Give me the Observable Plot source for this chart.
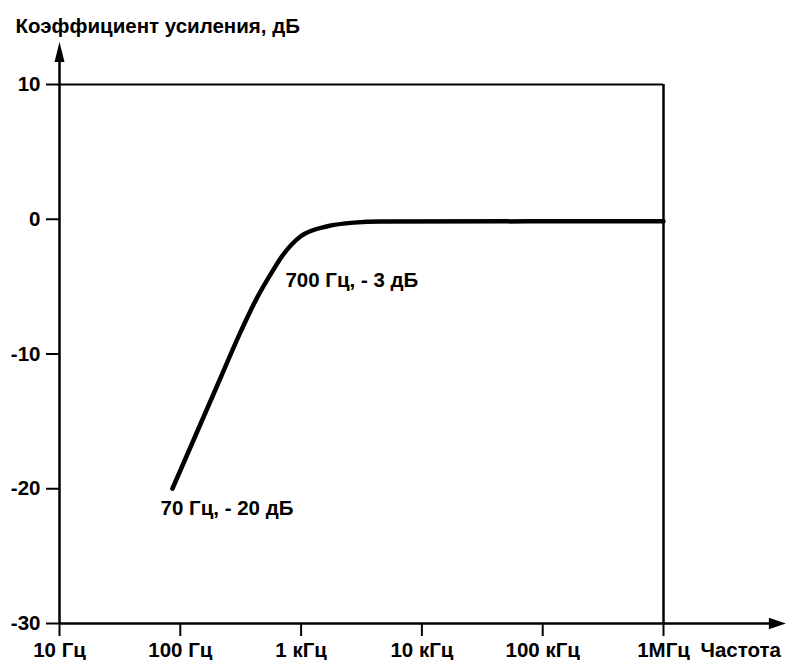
<!DOCTYPE html>
<html><head><meta charset="utf-8">
<script src="https://cdn.jsdelivr.net/npm/d3@7"></script>
<script src="https://cdn.jsdelivr.net/npm/@observablehq/plot@0.6"></script>
<style>body{margin:0;background:#fff}</style>
</head><body><div id="chart"></div>
<script>
// Frequency response curve
const freqHz = [86, 203, 317, 438, 572, 705, 994, 1654, 2729, 4571, 1000000];
const gainDb = [-20.0, -12.3, -8.32, -5.72, -3.94, -2.67, -1.26, -0.52, -0.25, -0.17, -0.15];

const xTickValues = [10, 100, 1000, 10000, 100000, 1000000];
const xTickLabels = ["10 Гц", "100 Гц", "1 кГц", "10 кГц", "100 кГц", "1МГц"];
const yTickValues = [10, 0, -10, -20, -30];
const yTickLabels = ["10", "0", "-10", "-20", "-30"];

const annotationText = ["700 Гц, - 3 дБ", "70 Гц, - 20 дБ"];
const annotationFreq = [700, 70];
const annotationGain = [-3, -20];

const yTitle = "Коэффициент усиления, дБ";
const xTitle = "Частота";

const xDomain = [10, 1000000];
const yDomain = [-30, 10];
// axis arrow extents (beyond the frame)
const yAxisTip = 13.15, yAxisBase = 12.0;
const xAxisTip = 10300000, xAxisBase = 7600000;

const curve = freqHz.map((f, i) => ({f, g: gainDb[i]}));
const annotations = annotationText.map((t, i) => ({t, f: annotationFreq[i], g: annotationGain[i]}));
const xLabelMap = new Map(xTickValues.map((v, i) => [v, xTickLabels[i]]));
const yLabelMap = new Map(yTickValues.map((v, i) => [v, yTickLabels[i]]));

const arrowUp = {draw(ctx) { ctx.moveTo(0, 0); ctx.lineTo(5, 20); ctx.lineTo(-5, 20); ctx.closePath(); }};
const arrowRight = {draw(ctx) { ctx.moveTo(0, 0); ctx.lineTo(-17, -5.8); ctx.lineTo(-17, 5.8); ctx.closePath(); }};

const FS = 20.5;

const chart = Plot.plot({
  width: 786,
  height: 660,
  marginLeft: 59,
  marginRight: 123,
  marginTop: 84,
  marginBottom: 37,
  style: {fontFamily: "'Liberation Sans', Arial, sans-serif", fontSize: FS + "px", fontWeight: "bold", color: "black", background: "white"},
  x: {type: "log", domain: xDomain, label: null},
  y: {domain: yDomain, label: null},
  marks: [
    // frame top and right
    Plot.ruleY([yDomain[1]], {x1: xDomain[0], x2: xDomain[1], stroke: "black", strokeWidth: 2}),
    Plot.ruleX([xDomain[1]], {y1: yDomain[0], y2: yDomain[1], stroke: "black", strokeWidth: 2.5}),
    // axis lines with arrows
    Plot.ruleX([xDomain[0]], {y1: yDomain[0], y2: yAxisBase, stroke: "black", strokeWidth: 2.5}),
    Plot.ruleY([yDomain[0]], {x1: xDomain[0], x2: xAxisBase, stroke: "black", strokeWidth: 2.5}),
    Plot.dot([0], {x: () => xDomain[0], y: () => yAxisTip, symbol: arrowUp, fill: "black", stroke: "none"}),
    Plot.dot([0], {x: () => xAxisTip, y: () => yDomain[0], symbol: arrowRight, fill: "black", stroke: "none"}),
    // axes
    Plot.axisY({ticks: yTickValues, tickFormat: d => yLabelMap.get(d), tickSize: 13, tickPadding: 6, strokeWidth: 2, fontSize: FS, label: null}),
    Plot.axisX({ticks: xTickValues, tickFormat: d => xLabelMap.get(d), tickSize: 13, tickPadding: 6, strokeWidth: 2, fontSize: FS, label: null}),
    // curve
    Plot.line(curve, {x: "f", y: "g", curve: "monotone-x", stroke: "black", strokeWidth: 4.5}),
    // annotations
    Plot.text([annotations[0]], {x: "f", y: "g", text: "t", textAnchor: "start", lineAnchor: "bottom", dx: 3, dy: 27.6, fill: "black", fontSize: FS}),
    Plot.text([annotations[1]], {x: "f", y: "g", text: "t", textAnchor: "start", lineAnchor: "bottom", dx: -1, dy: 26, fill: "black", fontSize: FS}),
    // titles
    Plot.text([yTitle], {frameAnchor: "top-left", textAnchor: "start", lineAnchor: "bottom", dx: -44, dy: -52, fill: "black", fontSize: FS}),
    Plot.text([xTitle], {x: () => xDomain[1], y: () => yDomain[0], textAnchor: "start", lineAnchor: "bottom", dx: 37, dy: 33, fill: "black", fontSize: FS})
  ]
});
document.getElementById("chart").appendChild(chart);
</script>
</body></html>
